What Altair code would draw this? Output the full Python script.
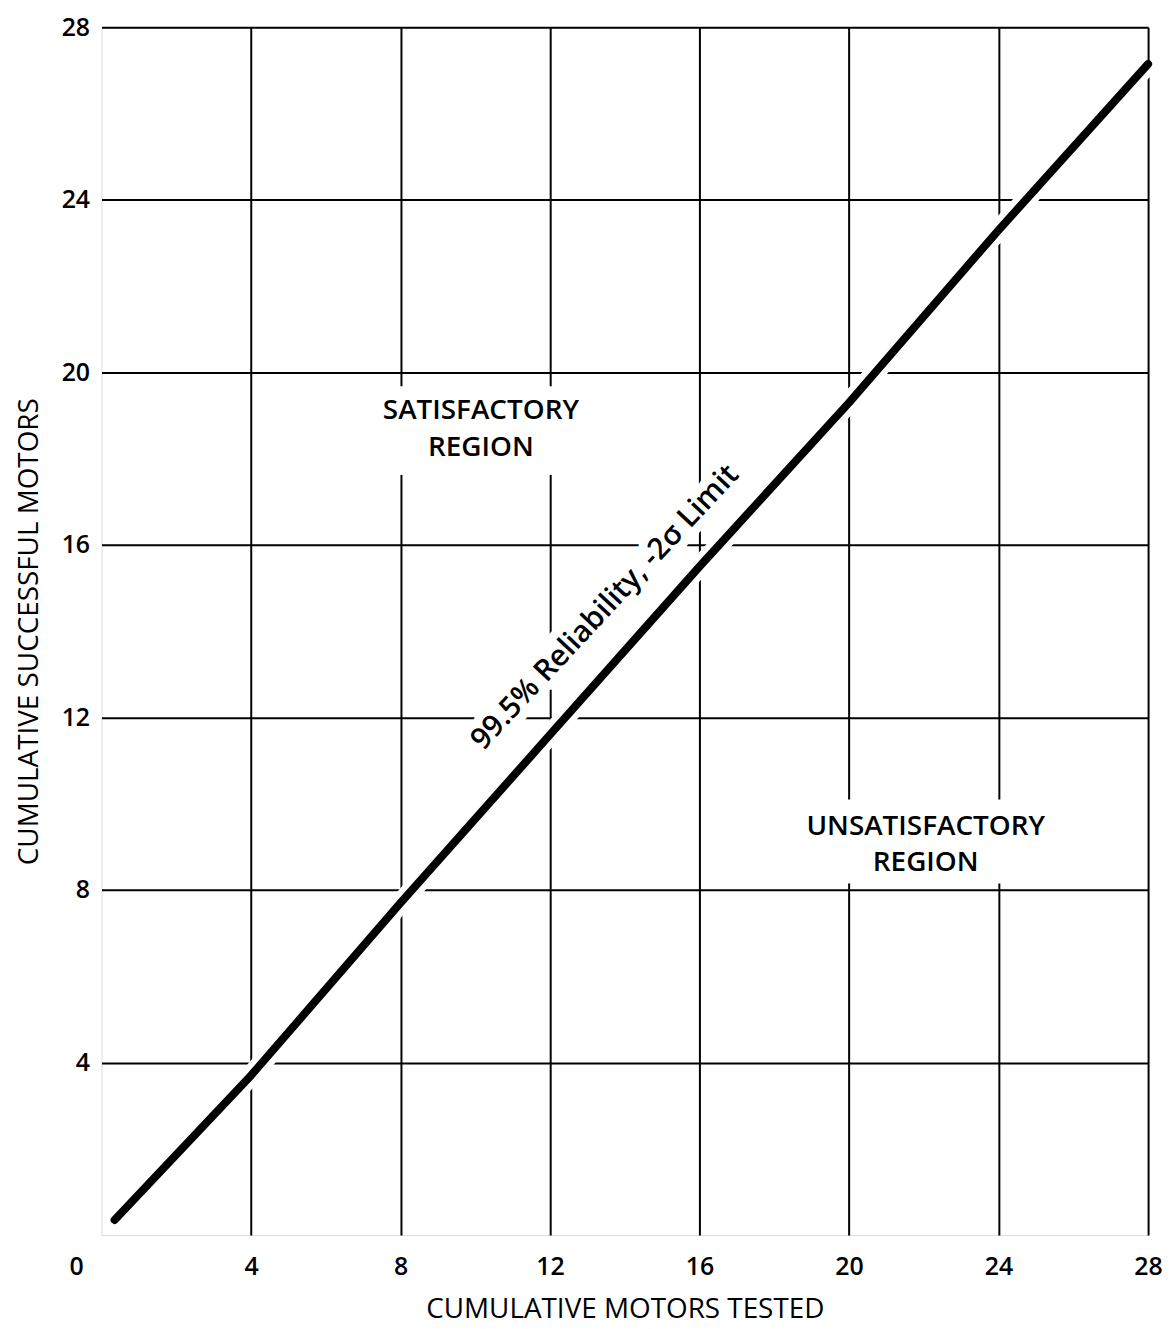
import altair as alt
import pandas as pd

# Curve: 99.5% reliability, -2 sigma limit
curve_x = [0.35, 4.0, 8.0, 12.0, 16.0, 20.0, 24.0, 28.0]
curve_y = [0.35, 3.7, 7.7, 11.6, 15.5, 19.3, 23.3, 27.15]

tick_values = [4, 8, 12, 16, 20, 24, 28]

# Region labels
region_text = ["SATISFACTORY", "REGION", "UNSATISFACTORY", "REGION"]
region_x = [10.15, 10.15, 22.05, 22.05]
region_y = [19.1, 18.25, 9.45, 8.62]

# Blank boxes behind the region labels (gridlines are interrupted)
box_x = [7.3, 18.4]
box_x2 = [13.0, 25.7]
box_y = [17.62, 8.15]
box_y2 = [19.68, 10.1]

curve_label = ["99.5% Reliability, -2\u03c3 Limit"]
curve_label_x = [13.47]
curve_label_y = [14.55]

FONT = "Open Sans"

curve_df = pd.DataFrame({"x": curve_x, "y": curve_y})
region_df = pd.DataFrame({"t": region_text, "x": region_x, "y": region_y})
box_df = pd.DataFrame({"x": box_x, "x2": box_x2, "y": box_y, "y2": box_y2})
label_df = pd.DataFrame({"t": curve_label, "x": curve_label_x, "y": curve_label_y})
origin_df = pd.DataFrame({"t": ["0"], "x": [0], "y": [0]})

xscale = alt.Scale(domain=[0, 28], nice=False, zero=False)
yscale = alt.Scale(domain=[0, 28], nice=False, zero=False)

xaxis = alt.Axis(values=tick_values, grid=True, gridColor="black", gridWidth=2,
                 gridOpacity=1, domain=False, ticks=False, labelFontSize=25,
                 labelFont=FONT, labelFontWeight=600, labelColor="black", labelPadding=20,
                 title="CUMULATIVE MOTORS TESTED", titleFont=FONT,
                 titleFontSize=28, titleFontWeight="normal", titleColor="black",
                 titlePadding=16, labelFlush=False)
yaxis = alt.Axis(values=tick_values, grid=True, gridColor="black", gridWidth=2,
                 gridOpacity=1, domain=False, ticks=False, labelFontSize=25,
                 labelFont=FONT, labelFontWeight=600, labelColor="black", labelPadding=12,
                 title="CUMULATIVE SUCCESSFUL MOTORS", titleFont=FONT,
                 titleFontSize=28, titleFontWeight="normal", titleColor="black",
                 titlePadding=18, labelFlush=False)

base_axes = alt.Chart(curve_df).mark_line(opacity=0).encode(
    x=alt.X("x:Q", scale=xscale, axis=xaxis),
    y=alt.Y("y:Q", scale=yscale, axis=yaxis),
)

boxes = alt.Chart(box_df).mark_rect(color="white").encode(
    x="x:Q", x2="x2:Q", y="y:Q", y2="y2:Q"
)

label_halo = alt.Chart(label_df).mark_text(font=FONT, fontSize=30, fontWeight=600,
                                           color="white", stroke="white", strokeWidth=18,
                                           strokeJoin="round", angle=313,
                                           baseline="middle", align="center").encode(
    x="x:Q", y="y:Q", text="t:N"
)

halo = alt.Chart(curve_df).mark_line(color="white", strokeWidth=20, strokeCap="butt").encode(
    x="x:Q", y="y:Q"
)
line = alt.Chart(curve_df).mark_line(color="black", strokeWidth=8, strokeCap="round",
                                     strokeJoin="round").encode(
    x="x:Q", y="y:Q"
)

region_txt = alt.Chart(region_df).mark_text(font=FONT, fontSize=28, fontWeight=600,
                                            color="black", baseline="middle",
                                            align="center").encode(
    x="x:Q", y="y:Q", text="t:N"
)

label_txt = alt.Chart(label_df).mark_text(font=FONT, fontSize=30, fontWeight=600,
                                          color="black", angle=313, baseline="middle",
                                          align="center").encode(
    x="x:Q", y="y:Q", text="t:N"
)

origin = alt.Chart(origin_df).mark_text(font=FONT, fontSize=25, fontWeight=600,
                                        color="black", dx=-25, dy=32, baseline="middle",
                                        align="center").encode(
    x="x:Q", y="y:Q", text="t:N"
)

chart = alt.layer(base_axes, boxes, label_halo, halo, line, region_txt, label_txt, origin).properties(
    width=1052, height=1214,
    autosize=alt.AutoSizeParams(type="none"),
    padding={"left": 94, "top": 16, "right": 16, "bottom": 89},
).configure_view(stroke="black", strokeWidth=3).configure(background="white")

chart.save("out.html", embed_options={"renderer": "svg", "actions": False})
